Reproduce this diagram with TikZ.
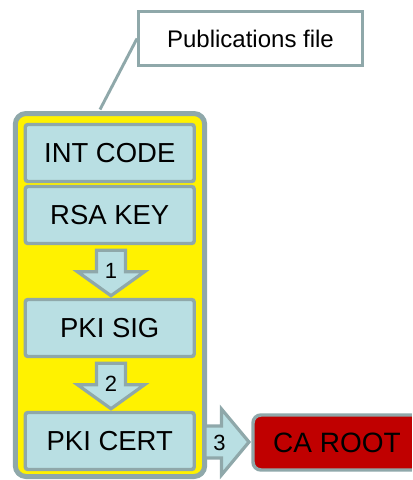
\documentclass[tikz,border=0pt]{standalone}
\usepackage{fontspec}
\setmainfont{Liberation Sans}
\usetikzlibrary{calc}
\definecolor{edgegray}{RGB}{143,168,170}
\definecolor{paleblue}{RGB}{185,223,227}
\definecolor{rootred}{RGB}{192,0,0}
\tikzset{
  field/.style={draw=edgegray, fill=paleblue, line width=2.6pt, rounded corners=2pt,
    minimum width=126.75pt, minimum height=42.75pt, inner sep=0pt,
    font=\fontsize{20.6}{24}\selectfont},
  flow/.style={draw=edgegray, fill=paleblue, line width=2.4pt, line join=miter},
  num/.style={font=\fontsize{16.5}{19}\selectfont, inner sep=0pt},
  pics/downblock/.style={code={
    \draw[flow] (-14.5,0) -- (14.5,0) -- (14.5,21.5) -- (33.5,21.5) -- (0,45.5)
      -- (-33.5,21.5) -- (-14.5,21.5) -- cycle;}},
  pics/rightblock/.style={code={
    \draw[flow] (0,-16) -- (16.5,-16) -- (16.5,-33) -- (44,0) -- (16.5,33)
      -- (16.5,16) -- (0,16) -- cycle;}}
}
\begin{document}
\begin{tikzpicture}[x=0.75pt,y=-0.75pt]
\useasboundingbox (0,0) rectangle (412,480);
\clip (0,0) rectangle (412,480);

% yellow container holding the record fields
\node[draw=edgegray, fill=yellow, line width=3.75pt, rounded corners=8pt,
  minimum width=142pt, minimum height=272.25pt, inner sep=0pt] (cont) at (110,295) {};

% callout
\node[draw=edgegray, fill=white, line width=2.2pt, minimum width=168pt,
  minimum height=40.5pt, inner sep=0pt, font=\fontsize{18}{21}\selectfont]
  (pub) at (250.5,38.5) {Publications file};
\coordinate (tail) at ($(cont.north)+(-10,-1.5)$);
\draw[edgegray, line width=2.2pt] (pub.west) -- (tail);

% fields
\node[field] (intcode) at (109.75,153) {INT CODE};
\node[field] (rsakey) at (109.75,215) {RSA KEY};
\node[field] (pkisig) at (109.75,328) {PKI SIG};
\node[field] (pkicert) at (109.75,441) {PKI CERT};

% root certificate
\node[draw=edgegray, fill=rootred, line width=2.6pt, rounded corners=6pt,
  minimum width=126pt, minimum height=41.25pt, inner sep=0pt,
  font=\fontsize{21}{24}\selectfont] (caroot) at (337,442.5) {CA ROOT};

% numbered steps
\pic at ($(rsakey.south)+(1.25,5)$) {downblock};
\node[num] (n1) at ($(rsakey.south)+(1.25,25.5)$) {1};
\pic at ($(pkisig.south)+(1.25,5)$) {downblock};
\node[num] (n2) at ($(pkisig.south)+(1.25,25.5)$) {2};
\pic at ($(pkicert.east)+(9,1)$) {rightblock};
\node[num] (n3) at ($(pkicert.east)+(23.5,2)$) {3};
\end{tikzpicture}
\end{document}
